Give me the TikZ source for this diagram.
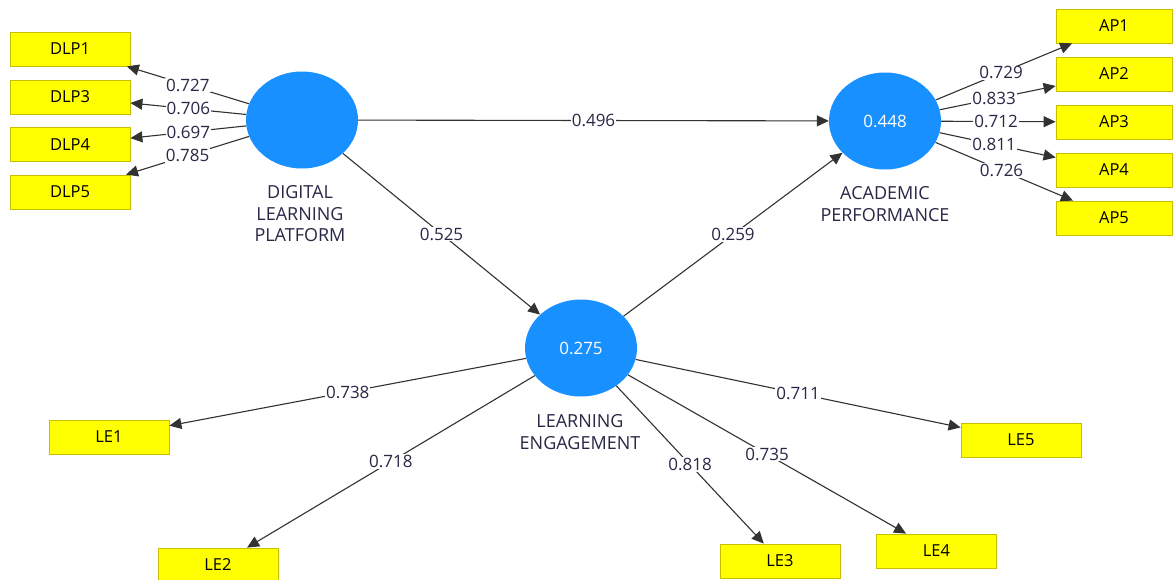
\documentclass[tikz,border=0pt]{standalone}
\usepackage{fontspec}
\setmainfont{Open Sans}
\usetikzlibrary{shapes.geometric,arrows.meta}
\definecolor{lvblue}{RGB}{24,144,255}
\definecolor{boxyellow}{RGB}{255,255,0}
\definecolor{boxborder}{RGB}{200,190,0}
\definecolor{linegray}{RGB}{50,50,50}
\definecolor{labtext}{RGB}{40,40,70}
\tikzset{
  latent/.style={ellipse, fill=lvblue, draw=none, minimum width=112pt, minimum height=97pt, inner sep=0pt, text=white, font=\fontsize{17}{19}\selectfont},
  indicator/.style={rectangle, fill=boxyellow, draw=boxborder, line width=0.8pt, minimum width=120pt, minimum height=34pt, inner sep=0pt, font=\fontsize{16.5}{18}\selectfont},
  apbox/.style={indicator, minimum width=116pt},
  caption/.style={align=center, text=labtext, font=\fontsize{18}{21.5}\selectfont},
  conn/.style={draw=linegray, line width=1.1pt, -{Triangle[length=12pt,width=11pt]}},
  wt/.style={fill=white, inner sep=1pt, text=labtext, font=\fontsize{17}{19}\selectfont, pos=0.5},
}
\begin{document}
\begin{tikzpicture}[x=1pt,y=-1pt]
\useasboundingbox (0,0) rectangle (1173,579);
\fill[white] (0,0) rectangle (1173,579);
% latent variables
\node[latent] (dlp) at (302,120) {};
\node[latent] (ap) at (885,121) {0.448};
\node[latent] (le) at (581,348) {0.275};
\node[caption] (dlpcap) at (300,214) {DIGITAL\\LEARNING\\PLATFORM};
\node[caption] (apcap) at (885,204) {ACADEMIC\\PERFORMANCE};
\node[caption] (lecap) at (580,432) {LEARNING\\ENGAGEMENT};
% indicators
\node[indicator] (dlp1) at (70,49) {DLP1};
\node[indicator] (dlp3) at (70,97) {DLP3};
\node[indicator] (dlp4) at (70,144.5) {DLP4};
\node[indicator] (dlp5) at (70,192) {DLP5};
\node[apbox] (ap1) at (1114,26) {AP1};
\node[apbox] (ap2) at (1114,74) {AP2};
\node[apbox] (ap3) at (1114,122) {AP3};
\node[apbox] (ap4) at (1114,170) {AP4};
\node[apbox] (ap5) at (1114,218) {AP5};
\node[indicator] (le1) at (109,437) {LE1};
\node[indicator] (le2) at (218,565) {LE2};
\node[indicator] (le3) at (780,561) {LE3};
\node[indicator] (le4) at (936.5,551) {LE4};
\node[indicator] (le5) at (1021,440) {LE5};
% outer loadings
\draw[conn] (dlp) -- node[wt] {0.727} (dlp1);
\draw[conn] (dlp) -- node[wt] {0.706} (dlp3);
\draw[conn] (dlp) -- node[wt] {0.697} (dlp4);
\draw[conn] (dlp) -- node[wt] {0.785} (dlp5);
\draw[conn] (ap) -- node[wt,pos=0.48] {0.729} (ap1);
\draw[conn] (ap) -- node[wt,pos=0.47] {0.833} (ap2);
\draw[conn] (ap) -- node[wt,pos=0.48] {0.712} (ap3);
\draw[conn] (ap) -- node[wt,pos=0.47] {0.811} (ap4);
\draw[conn] (ap) -- node[wt,pos=0.48] {0.726} (ap5);
\draw[conn] (le) -- node[wt] {0.738} (le1);
\draw[conn] (le) -- node[wt] {0.718} (le2);
\draw[conn] (le) -- node[wt] {0.818} (le3);
\draw[conn] (le) -- node[wt] {0.735} (le4);
\draw[conn] (le) -- node[wt] {0.711} (le5);
% structural paths
\draw[conn] (dlp) -- node[wt] {0.496} (ap);
\draw[conn] (dlp) -- node[wt] {0.525} (le);
\draw[conn] (le) -- node[wt] {0.259} (ap);
\end{tikzpicture}
\end{document}
